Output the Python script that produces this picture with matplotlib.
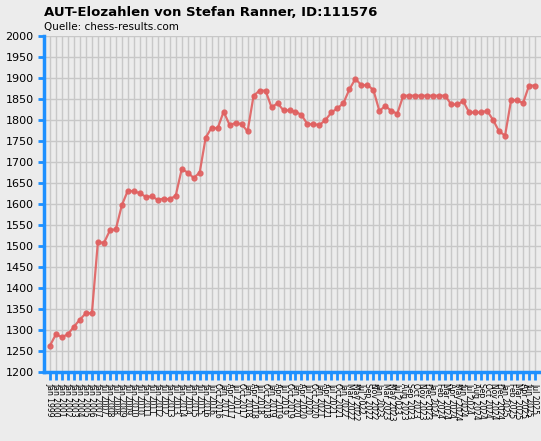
import matplotlib
matplotlib.use("Agg")
import matplotlib.pyplot as plt

dates = [
    "Jan 1999", "Jan 2000", "Jan 2001", "Jan 2002", "Jan 2003", "Jan 2004", "Jan 2005",
    "Jan 2006", "Jan 2007", "Jul 2007", "Jan 2008", "Jul 2008", "Jan 2009", "Jul 2009",
    "Jan 2010", "Jul 2010", "Jan 2011", "Jul 2011", "Jan 2012", "Jul 2012", "Jan 2013",
    "Jul 2013", "Jan 2014", "Jul 2014", "Jan 2015", "Jul 2015", "Jan 2016", "Jul 2016",
    "Oct 2016", "Jan 2017", "Apr 2017", "Jul 2017", "Oct 2017", "Jan 2018", "Apr 2018",
    "Jul 2018", "Oct 2018", "Jan 2019", "Apr 2019", "Jul 2019", "Oct 2019", "Jan 2020",
    "Apr 2020", "Jul 2020", "Oct 2020", "Jan 2021", "Apr 2021", "Jul 2021", "Oct 2021",
    "Jan 2022", "Mar 2022", "May 2022", "Jul 2022", "Sep 2022", "Nov 2022", "Jan 2023",
    "Mar 2023", "May 2023", "Jul 2023", "Aug 2023", "Sep 2023", "Oct 2023", "Nov 2023",
    "Dec 2023", "Jan 2024", "Feb 2024", "Mar 2024", "Apr 2024", "May 2024", "Jun 2024",
    "Jul 2024", "Aug 2024", "Sep 2024", "Oct 2024", "Nov 2024", "Dec 2024", "Jan 2025",
    "Feb 2025", "Mar 2025", "Apr 2025", "Jun 2025", "Jul 2025",
]
elo = [
    1263, 1290, 1283, 1290, 1308, 1325, 1340, 1340, 1510, 1507, 1537, 1540, 1597, 1632,
    1630, 1626, 1617, 1618, 1610, 1613, 1611, 1620, 1683, 1675, 1662, 1675, 1758, 1782,
    1780, 1820, 1788, 1793, 1790, 1773, 1858, 1870, 1870, 1830, 1840, 1823, 1823, 1820,
    1812, 1790, 1790, 1788, 1800, 1818, 1828, 1840, 1873, 1898, 1883, 1883, 1872, 1822,
    1833, 1822, 1815, 1858, 1858, 1858, 1858, 1858, 1858, 1858, 1858, 1837, 1837, 1845,
    1818, 1818, 1818, 1822, 1800, 1773, 1763, 1847, 1847, 1840, 1882, 1882,
]

bg = "#ececec"
blue = "#1e90ff"
fig = plt.figure(figsize=(5.41, 4.41), dpi=100, facecolor=bg)
ax = fig.add_axes([44 / 541, 1 - 372 / 441, 497 / 541, 336 / 441], facecolor=bg)

x = list(range(len(elo)))
ax.plot(x, elo, color="#e06060", lw=1.6, marker="o", ms=3.5, alpha=0.9)

ax.set_xlim(-1, len(elo))
ax.set_ylim(1200, 2000)
ax.set_yticks(range(1200, 2001, 50))
ax.set_xticks(x)
ax.set_xticklabels(dates, rotation=270, fontsize=5.5)
ax.tick_params(axis="y", labelsize=8, color=blue, width=2, length=4)
ax.tick_params(axis="x", color=blue, width=2, length=6, pad=2)
ax.grid(True, color="#c8c8c8", lw=1)
ax.set_axisbelow(True)
for s in ["top", "right"]:
    ax.spines[s].set_visible(False)
for s in ["left", "bottom"]:
    ax.spines[s].set_color(blue)
    ax.spines[s].set_linewidth(2.5)

fig.text(44 / 541, 1 - 12 / 441, "AUT-Elozahlen von Stefan Ranner, ID:111576",
         fontsize=9.5, fontweight="bold", va="center")
fig.text(44 / 541, 1 - 27 / 441, "Quelle: chess-results.com", fontsize=7.5, va="center")

fig.savefig("out.png", dpi=100, facecolor=bg)
